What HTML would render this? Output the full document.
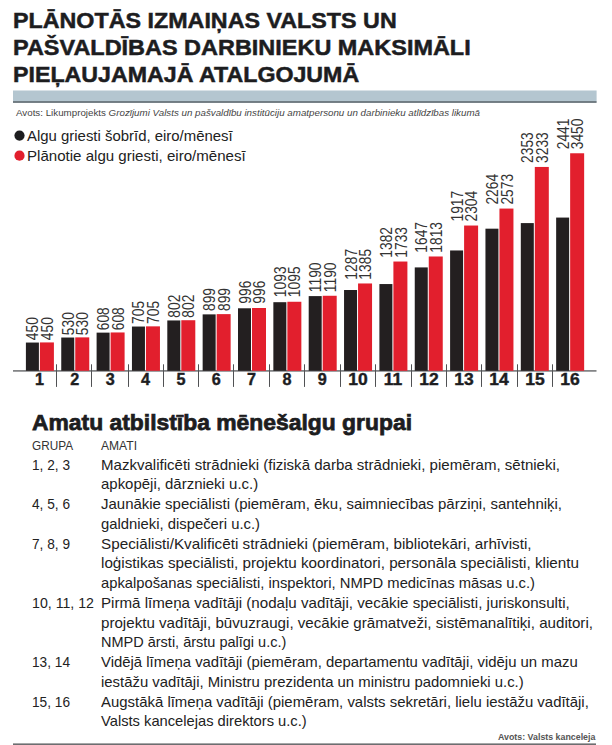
<!DOCTYPE html><html><head><meta charset="utf-8"><title>Algu griesti</title><style>
html,body{margin:0;padding:0;background:#fff;}
body{width:612px;height:745px;position:relative;overflow:hidden;font-family:"Liberation Sans", sans-serif;}
.t{position:absolute;white-space:nowrap;line-height:1;transform-origin:0 0;}
.c{transform-origin:50% 0;}
svg{position:absolute;left:0;top:0;}
</style></head><body>
<svg width="612" height="745" viewBox="0 0 612 745">
<rect x="13" y="90.5" width="583.6" height="11" fill="#b4c6d0"/>
<rect x="13" y="101.2" width="583.6" height="1.6" fill="#56636a"/>
<circle cx="19.5" cy="135.6" r="5.1" fill="#1d1d1f"/>
<circle cx="19.5" cy="155.7" r="5.1" fill="#e21f2d"/>
<rect x="13" y="370.1" width="583.5" height="1.6" fill="#77787b"/>
<rect x="25.90" y="342.55" width="13" height="28.25" fill="#231f20"/>
<rect x="39.90" y="342.43" width="14" height="28.37" fill="#e21f2d"/>
<text transform="translate(38.40 340.23) rotate(-90) scale(0.865 1)" font-family="Liberation Sans, sans-serif" font-size="16" fill="#333">450</text>
<text transform="translate(53.00 340.23) rotate(-90) scale(0.865 1)" font-family="Liberation Sans, sans-serif" font-size="16" fill="#333">450</text>
<rect x="61.25" y="337.53" width="13" height="33.27" fill="#231f20"/>
<rect x="75.25" y="337.38" width="14" height="33.42" fill="#e21f2d"/>
<text transform="translate(73.75 335.18) rotate(-90) scale(0.865 1)" font-family="Liberation Sans, sans-serif" font-size="16" fill="#333">530</text>
<text transform="translate(88.35 335.18) rotate(-90) scale(0.865 1)" font-family="Liberation Sans, sans-serif" font-size="16" fill="#333">530</text>
<rect x="96.60" y="332.63" width="13" height="38.17" fill="#231f20"/>
<rect x="110.60" y="332.46" width="14" height="38.34" fill="#e21f2d"/>
<text transform="translate(109.10 330.26) rotate(-90) scale(0.865 1)" font-family="Liberation Sans, sans-serif" font-size="16" fill="#333">608</text>
<text transform="translate(123.70 330.26) rotate(-90) scale(0.865 1)" font-family="Liberation Sans, sans-serif" font-size="16" fill="#333">608</text>
<rect x="131.95" y="326.54" width="13" height="44.26" fill="#231f20"/>
<rect x="145.95" y="326.35" width="14" height="44.45" fill="#e21f2d"/>
<text transform="translate(144.45 323.95) rotate(-90) scale(0.865 1)" font-family="Liberation Sans, sans-serif" font-size="16" fill="#333">705</text>
<text transform="translate(159.05 323.95) rotate(-90) scale(0.865 1)" font-family="Liberation Sans, sans-serif" font-size="16" fill="#333">705</text>
<rect x="167.30" y="320.45" width="13" height="50.35" fill="#231f20"/>
<rect x="181.30" y="320.23" width="14" height="50.57" fill="#e21f2d"/>
<text transform="translate(179.80 317.63) rotate(-90) scale(0.865 1)" font-family="Liberation Sans, sans-serif" font-size="16" fill="#333">802</text>
<text transform="translate(194.40 317.63) rotate(-90) scale(0.865 1)" font-family="Liberation Sans, sans-serif" font-size="16" fill="#333">802</text>
<rect x="202.65" y="314.37" width="13" height="56.43" fill="#231f20"/>
<rect x="216.65" y="314.12" width="14" height="56.68" fill="#e21f2d"/>
<text transform="translate(215.15 311.02) rotate(-90) scale(0.865 1)" font-family="Liberation Sans, sans-serif" font-size="16" fill="#333">899</text>
<text transform="translate(229.75 311.02) rotate(-90) scale(0.865 1)" font-family="Liberation Sans, sans-serif" font-size="16" fill="#333">899</text>
<rect x="238.00" y="308.28" width="13" height="62.52" fill="#231f20"/>
<rect x="252.00" y="308.00" width="14" height="62.80" fill="#e21f2d"/>
<text transform="translate(250.50 303.70) rotate(-90) scale(0.865 1)" font-family="Liberation Sans, sans-serif" font-size="16" fill="#333">996</text>
<text transform="translate(265.10 303.70) rotate(-90) scale(0.865 1)" font-family="Liberation Sans, sans-serif" font-size="16" fill="#333">996</text>
<rect x="273.35" y="302.19" width="13" height="68.61" fill="#231f20"/>
<rect x="287.35" y="301.76" width="14" height="69.04" fill="#e21f2d"/>
<text transform="translate(285.85 297.16) rotate(-90) scale(0.865 1)" font-family="Liberation Sans, sans-serif" font-size="16" fill="#333">1093</text>
<text transform="translate(300.45 297.16) rotate(-90) scale(0.865 1)" font-family="Liberation Sans, sans-serif" font-size="16" fill="#333">1095</text>
<rect x="308.70" y="296.10" width="13" height="74.70" fill="#231f20"/>
<rect x="322.70" y="295.77" width="14" height="75.03" fill="#e21f2d"/>
<text transform="translate(321.20 292.17) rotate(-90) scale(0.865 1)" font-family="Liberation Sans, sans-serif" font-size="16" fill="#333">1190</text>
<text transform="translate(335.80 292.17) rotate(-90) scale(0.865 1)" font-family="Liberation Sans, sans-serif" font-size="16" fill="#333">1190</text>
<rect x="344.05" y="290.01" width="13" height="80.79" fill="#231f20"/>
<rect x="358.05" y="283.47" width="14" height="87.33" fill="#e21f2d"/>
<text transform="translate(356.55 279.67) rotate(-90) scale(0.865 1)" font-family="Liberation Sans, sans-serif" font-size="16" fill="#333">1287</text>
<text transform="translate(371.15 279.67) rotate(-90) scale(0.865 1)" font-family="Liberation Sans, sans-serif" font-size="16" fill="#333">1385</text>
<rect x="379.40" y="284.05" width="13" height="86.75" fill="#231f20"/>
<rect x="393.40" y="261.53" width="14" height="109.27" fill="#e21f2d"/>
<text transform="translate(391.90 257.73) rotate(-90) scale(0.865 1)" font-family="Liberation Sans, sans-serif" font-size="16" fill="#333">1382</text>
<text transform="translate(406.50 257.73) rotate(-90) scale(0.865 1)" font-family="Liberation Sans, sans-serif" font-size="16" fill="#333">1733</text>
<rect x="414.75" y="267.41" width="13" height="103.39" fill="#231f20"/>
<rect x="428.75" y="256.49" width="14" height="114.31" fill="#e21f2d"/>
<text transform="translate(427.25 252.69) rotate(-90) scale(0.865 1)" font-family="Liberation Sans, sans-serif" font-size="16" fill="#333">1647</text>
<text transform="translate(441.85 252.69) rotate(-90) scale(0.865 1)" font-family="Liberation Sans, sans-serif" font-size="16" fill="#333">1813</text>
<rect x="450.10" y="250.46" width="13" height="120.34" fill="#231f20"/>
<rect x="464.10" y="225.53" width="14" height="145.27" fill="#e21f2d"/>
<text transform="translate(462.60 221.53) rotate(-90) scale(0.865 1)" font-family="Liberation Sans, sans-serif" font-size="16" fill="#333">1917</text>
<text transform="translate(477.20 221.53) rotate(-90) scale(0.865 1)" font-family="Liberation Sans, sans-serif" font-size="16" fill="#333">2304</text>
<rect x="485.45" y="228.68" width="13" height="142.12" fill="#231f20"/>
<rect x="499.45" y="208.57" width="14" height="162.23" fill="#e21f2d"/>
<text transform="translate(497.95 204.57) rotate(-90) scale(0.865 1)" font-family="Liberation Sans, sans-serif" font-size="16" fill="#333">2264</text>
<text transform="translate(512.55 204.57) rotate(-90) scale(0.865 1)" font-family="Liberation Sans, sans-serif" font-size="16" fill="#333">2573</text>
<rect x="520.80" y="223.09" width="13" height="147.71" fill="#231f20"/>
<rect x="534.80" y="166.95" width="14" height="203.85" fill="#e21f2d"/>
<text transform="translate(533.30 162.95) rotate(-90) scale(0.865 1)" font-family="Liberation Sans, sans-serif" font-size="16" fill="#333">2353</text>
<text transform="translate(547.90 162.95) rotate(-90) scale(0.865 1)" font-family="Liberation Sans, sans-serif" font-size="16" fill="#333">3233</text>
<rect x="556.15" y="217.57" width="13" height="153.23" fill="#231f20"/>
<rect x="570.15" y="153.27" width="14" height="217.53" fill="#e21f2d"/>
<text transform="translate(568.65 149.27) rotate(-90) scale(0.865 1)" font-family="Liberation Sans, sans-serif" font-size="16" fill="#333">2441</text>
<text transform="translate(583.25 149.27) rotate(-90) scale(0.865 1)" font-family="Liberation Sans, sans-serif" font-size="16" fill="#333">3450</text>
<rect x="56" y="364.3" width="1" height="22.6" fill="#505154"/>
<rect x="91" y="364.3" width="1" height="22.6" fill="#505154"/>
<rect x="128" y="364.3" width="1" height="22.6" fill="#505154"/>
<rect x="163" y="364.3" width="1" height="22.6" fill="#505154"/>
<rect x="198" y="364.3" width="1" height="22.6" fill="#505154"/>
<rect x="233" y="364.3" width="1" height="22.6" fill="#505154"/>
<rect x="269" y="364.3" width="1" height="22.6" fill="#505154"/>
<rect x="304" y="364.3" width="1" height="22.6" fill="#505154"/>
<rect x="340" y="364.3" width="1" height="22.6" fill="#505154"/>
<rect x="375" y="364.3" width="1" height="22.6" fill="#505154"/>
<rect x="411" y="364.3" width="1" height="22.6" fill="#505154"/>
<rect x="446" y="364.3" width="1" height="22.6" fill="#505154"/>
<rect x="481" y="364.3" width="1" height="22.6" fill="#505154"/>
<rect x="517" y="364.3" width="1" height="22.6" fill="#505154"/>
<rect x="552" y="364.3" width="1" height="22.6" fill="#505154"/>
<rect x="13" y="743.4" width="583" height="1.6" fill="#6d6e70"/>
</svg>
<div class="t" id="t0" style="left:13.30px;top:10px;font-size:22.30px;color:#1d1d1f;font-weight:bold;-webkit-text-stroke:0.5px #1d1d1f;transform:translateY(0.12px) scaleX(1.0441);">PLĀNOTĀS IZMAIŅAS VALSTS UN</div>
<div class="t" id="t1" style="left:13.30px;top:37px;font-size:22.30px;color:#1d1d1f;font-weight:bold;-webkit-text-stroke:0.5px #1d1d1f;transform:translateY(0.12px) scaleX(1.0517);">PAŠVALDĪBAS DARBINIEKU MAKSIMĀLI</div>
<div class="t" id="t2" style="left:13.30px;top:64px;font-size:22.30px;color:#1d1d1f;font-weight:bold;-webkit-text-stroke:0.5px #1d1d1f;transform:translateY(0.12px) scaleX(1.0402);">PIEĻAUJAMAJĀ ATALGOJUMĀ</div>
<div class="t" id="t3" style="left:16.00px;top:109px;font-size:8.80px;color:#444;transform:translateY(0.15px) scaleX(1.1098);">Avots: Likumprojekts <i>Grozījumi Valsts un pašvaldību institūciju amatpersonu un darbinieku atlīdzības likumā</i></div>
<div class="t" id="t4" style="left:27.30px;top:128px;font-size:14.50px;color:#222;transform:translateY(0.93px) scaleX(1.0291);">Algu griesti šobrīd, eiro/mēnesī</div>
<div class="t" id="t5" style="left:27.30px;top:148px;font-size:14.50px;color:#222;transform:translateY(0.83px) scaleX(1.0396);">Plānotie algu griesti, eiro/mēnesī</div>
<div class="t" id="t6" style="left:32.00px;top:411px;font-size:22.30px;color:#1d1d1f;font-weight:bold;-webkit-text-stroke:0.75px #1d1d1f;transform:translateY(0.72px) scaleX(1.0258);">Amatu atbilstība mēnešalgu grupai</div>
<div class="t" id="t7" style="left:32.00px;top:439px;font-size:13.00px;color:#333;transform:translateY(0.30px) scaleX(0.9058);">GRUPA</div>
<div class="t" id="t8" style="left:101.00px;top:439px;font-size:13.00px;color:#333;transform:translateY(0.30px) scaleX(0.9287);">AMATI</div>
<div class="t" id="t9" style="left:32.00px;top:457px;font-size:15.00px;color:#222;transform:translateY(0.00px) scaleX(0.9112);">1, 2, 3</div>
<div class="t" id="t10" style="left:101.00px;top:457px;font-size:15.00px;color:#222;transform:translateY(0.00px) scaleX(1.0029);">Mazkvalificēti strādnieki (fiziskā darba strādnieki, piemēram, sētnieki,</div>
<div class="t" id="t11" style="left:101.00px;top:475px;font-size:15.00px;color:#222;transform:translateY(0.75px) scaleX(0.9975);">apkopēji, dārznieki u.c.)</div>
<div class="t" id="t12" style="left:32.00px;top:495px;font-size:15.00px;color:#222;transform:translateY(0.50px) scaleX(0.9112);">4, 5, 6</div>
<div class="t" id="t13" style="left:101.00px;top:495px;font-size:15.00px;color:#222;transform:translateY(0.50px) scaleX(0.9981);">Jaunākie speciālisti (piemēram, ēku, saimniecības pārziņi, santehniķi,</div>
<div class="t" id="t14" style="left:101.00px;top:516px;font-size:15.00px;color:#222;transform:translateY(0.25px) scaleX(0.9881);">galdnieki, dispečeri u.c.)</div>
<div class="t" id="t15" style="left:32.00px;top:536px;font-size:15.00px;color:#222;transform:translateY(0.00px) scaleX(0.9112);">7, 8, 9</div>
<div class="t" id="t16" style="left:101.00px;top:536px;font-size:15.00px;color:#222;transform:translateY(0.00px) scaleX(1.0168);">Speciālisti/Kvalificēti strādnieki (piemēram, bibliotekāri, arhīvisti,</div>
<div class="t" id="t17" style="left:101.00px;top:554px;font-size:15.00px;color:#222;transform:translateY(0.75px) scaleX(1.0165);">loģistikas speciālisti, projektu koordinatori, personāla speciālisti, klientu</div>
<div class="t" id="t18" style="left:101.00px;top:574px;font-size:15.00px;color:#222;transform:translateY(0.50px) scaleX(0.9841);">apkalpošanas speciālisti, inspektori, NMPD medicīnas māsas u.c.)</div>
<div class="t" id="t19" style="left:32.00px;top:595px;font-size:15.00px;color:#222;transform:translateY(0.25px) scaleX(0.9448);">10, 11, 12</div>
<div class="t" id="t20" style="left:101.00px;top:595px;font-size:15.00px;color:#222;transform:translateY(0.25px) scaleX(1.0075);">Pirmā līmeņa vadītāji (nodaļu vadītāji, vecākie speciālisti, juriskonsulti,</div>
<div class="t" id="t21" style="left:101.00px;top:615px;font-size:15.00px;color:#222;transform:translateY(0.00px) scaleX(1.0087);">projektu vadītāji, būvuzraugi, vecākie grāmatveži, sistēmanalītiķi, auditori,</div>
<div class="t" id="t22" style="left:101.00px;top:633px;font-size:15.00px;color:#222;transform:translateY(0.75px) scaleX(0.9665);">NMPD ārsti, ārstu palīgi u.c.)</div>
<div class="t" id="t23" style="left:32.00px;top:653px;font-size:15.00px;color:#222;transform:translateY(0.50px) scaleX(0.9109);">13, 14</div>
<div class="t" id="t24" style="left:101.00px;top:653px;font-size:15.00px;color:#222;transform:translateY(0.50px) scaleX(0.9932);">Vidējā līmeņa vadītāji (piemēram, departamentu vadītāji, vidēju un mazu</div>
<div class="t" id="t25" style="left:101.00px;top:674px;font-size:15.00px;color:#222;transform:translateY(0.25px) scaleX(0.9922);">iestāžu vadītāji, Ministru prezidenta un ministru padomnieki u.c.)</div>
<div class="t" id="t26" style="left:32.00px;top:694px;font-size:15.00px;color:#222;transform:translateY(0.00px) scaleX(0.9109);">15, 16</div>
<div class="t" id="t27" style="left:101.00px;top:694px;font-size:15.00px;color:#222;transform:translateY(0.00px) scaleX(0.9951);">Augstākā līmeņa vadītāji (piemēram, valsts sekretāri, lielu iestāžu vadītāji,</div>
<div class="t" id="t28" style="left:101.00px;top:712px;font-size:15.00px;color:#222;transform:translateY(0.75px) scaleX(0.9804);">Valsts kancelejas direktors u.c.)</div>
<div class="t" id="t29" style="left:498.40px;top:733px;font-size:9.20px;color:#555;font-weight:bold;transform:translateY(0.11px) scaleX(0.9615);">Avots: Valsts kanceleja</div>
<div class="t c" id="t30" style="left:39.50px;top:371px;font-size:16.20px;color:#1d1d1f;font-weight:bold;-webkit-text-stroke:0.4px #1d1d1f;transform:translate(-50%,0.19px) scaleX(1.0);">1</div>
<div class="t c" id="t31" style="left:74.85px;top:371px;font-size:16.20px;color:#1d1d1f;font-weight:bold;-webkit-text-stroke:0.4px #1d1d1f;transform:translate(-50%,0.19px) scaleX(1.0);">2</div>
<div class="t c" id="t32" style="left:110.20px;top:371px;font-size:16.20px;color:#1d1d1f;font-weight:bold;-webkit-text-stroke:0.4px #1d1d1f;transform:translate(-50%,0.19px) scaleX(1.0);">3</div>
<div class="t c" id="t33" style="left:145.55px;top:371px;font-size:16.20px;color:#1d1d1f;font-weight:bold;-webkit-text-stroke:0.4px #1d1d1f;transform:translate(-50%,0.19px) scaleX(1.0);">4</div>
<div class="t c" id="t34" style="left:180.90px;top:371px;font-size:16.20px;color:#1d1d1f;font-weight:bold;-webkit-text-stroke:0.4px #1d1d1f;transform:translate(-50%,0.19px) scaleX(1.0);">5</div>
<div class="t c" id="t35" style="left:216.25px;top:371px;font-size:16.20px;color:#1d1d1f;font-weight:bold;-webkit-text-stroke:0.4px #1d1d1f;transform:translate(-50%,0.19px) scaleX(1.0);">6</div>
<div class="t c" id="t36" style="left:251.60px;top:371px;font-size:16.20px;color:#1d1d1f;font-weight:bold;-webkit-text-stroke:0.4px #1d1d1f;transform:translate(-50%,0.19px) scaleX(1.0);">7</div>
<div class="t c" id="t37" style="left:286.95px;top:371px;font-size:16.20px;color:#1d1d1f;font-weight:bold;-webkit-text-stroke:0.4px #1d1d1f;transform:translate(-50%,0.19px) scaleX(1.0);">8</div>
<div class="t c" id="t38" style="left:322.30px;top:371px;font-size:16.20px;color:#1d1d1f;font-weight:bold;-webkit-text-stroke:0.4px #1d1d1f;transform:translate(-50%,0.19px) scaleX(1.0);">9</div>
<div class="t c" id="t39" style="left:357.95px;top:371px;font-size:16.20px;color:#1d1d1f;font-weight:bold;-webkit-text-stroke:0.4px #1d1d1f;transform:translate(-50%,0.19px) scaleX(1.08);">10</div>
<div class="t c" id="t40" style="left:393.30px;top:371px;font-size:16.20px;color:#1d1d1f;font-weight:bold;-webkit-text-stroke:0.4px #1d1d1f;transform:translate(-50%,0.19px) scaleX(1.08);">11</div>
<div class="t c" id="t41" style="left:428.65px;top:371px;font-size:16.20px;color:#1d1d1f;font-weight:bold;-webkit-text-stroke:0.4px #1d1d1f;transform:translate(-50%,0.19px) scaleX(1.08);">12</div>
<div class="t c" id="t42" style="left:464.00px;top:371px;font-size:16.20px;color:#1d1d1f;font-weight:bold;-webkit-text-stroke:0.4px #1d1d1f;transform:translate(-50%,0.19px) scaleX(1.08);">13</div>
<div class="t c" id="t43" style="left:499.35px;top:371px;font-size:16.20px;color:#1d1d1f;font-weight:bold;-webkit-text-stroke:0.4px #1d1d1f;transform:translate(-50%,0.19px) scaleX(1.08);">14</div>
<div class="t c" id="t44" style="left:534.70px;top:371px;font-size:16.20px;color:#1d1d1f;font-weight:bold;-webkit-text-stroke:0.4px #1d1d1f;transform:translate(-50%,0.19px) scaleX(1.08);">15</div>
<div class="t c" id="t45" style="left:570.05px;top:371px;font-size:16.20px;color:#1d1d1f;font-weight:bold;-webkit-text-stroke:0.4px #1d1d1f;transform:translate(-50%,0.19px) scaleX(1.08);">16</div>
</body></html>
